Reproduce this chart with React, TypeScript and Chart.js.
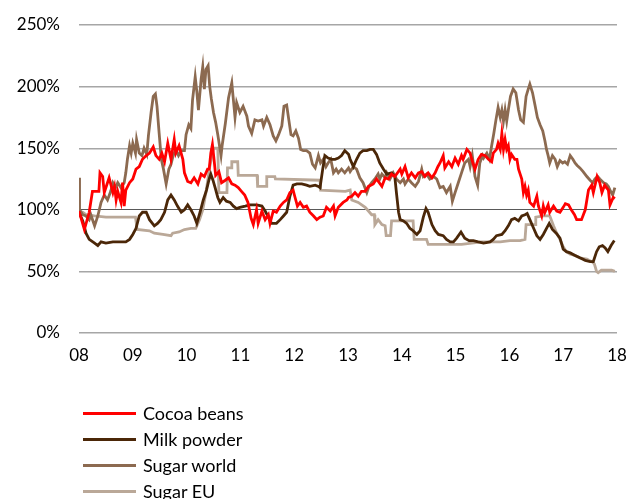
import React, { useEffect, useRef } from "react";
import { Chart, registerables } from "chart.js";
Chart.register(...registerables);

const seriesNames = ["Cocoa beans", "Milk powder", "Sugar world", "Sugar EU"];
const seriesColors = ["#FF0000", "#4B2708", "#8C6A50", "#BAA898"];
const xTickLabels = ["08", "09", "10", "11", "12", "13", "14", "15", "16", "17", "18"];
const yTickValues = [0, 50, 100, 150, 200, 250];

const cocoaBeans: [number, number][] = [
  [2008.00, 99], [2008.10, 84], [2008.19, 98], [2008.25, 115], [2008.37, 115], [2008.39, 130], [2008.44, 127], [2008.47, 114],
  [2008.56, 126], [2008.63, 114], [2008.66, 119], [2008.69, 108], [2008.72, 115], [2008.78, 106], [2008.81, 122], [2008.84, 103],
  [2008.87, 116], [2008.94, 122], [2009.00, 125], [2009.06, 133], [2009.12, 135], [2009.18, 141], [2009.25, 144], [2009.31, 146],
  [2009.38, 151], [2009.43, 144], [2009.49, 141], [2009.54, 146], [2009.59, 139], [2009.65, 154], [2009.71, 141], [2009.77, 157],
  [2009.80, 146], [2009.86, 152], [2009.93, 141], [2009.96, 130], [2010.02, 123], [2010.08, 122], [2010.14, 126], [2010.21, 121],
  [2010.27, 129], [2010.33, 127], [2010.39, 133], [2010.42, 133], [2010.45, 146], [2010.48, 153], [2010.51, 141], [2010.54, 128],
  [2010.60, 131], [2010.65, 122], [2010.72, 124], [2010.78, 126], [2010.84, 121], [2010.90, 120], [2010.96, 118], [2011.02, 115],
  [2011.08, 112], [2011.14, 106], [2011.20, 93], [2011.24, 88], [2011.30, 100], [2011.33, 89], [2011.40, 99], [2011.46, 92], [2011.52, 96],
  [2011.55, 89], [2011.61, 99], [2011.67, 98], [2011.74, 103], [2011.80, 106], [2011.86, 108], [2011.92, 114], [2011.98, 116],
  [2012.01, 111], [2012.06, 103], [2012.11, 106], [2012.17, 102], [2012.23, 103], [2012.29, 98], [2012.36, 95], [2012.42, 92],
  [2012.48, 94], [2012.54, 95], [2012.60, 102], [2012.67, 99], [2012.73, 103], [2012.76, 95], [2012.82, 102], [2012.91, 106],
  [2012.98, 108], [2013.01, 110], [2013.07, 111], [2013.13, 114], [2013.19, 111], [2013.25, 115], [2013.32, 115], [2013.38, 119],
  [2013.47, 121], [2013.53, 125], [2013.63, 119], [2013.69, 126], [2013.75, 125], [2013.81, 129], [2013.87, 127], [2013.97, 133],
  [2014.00, 129], [2014.06, 135], [2014.12, 126], [2014.18, 130], [2014.25, 126], [2014.31, 130], [2014.37, 131], [2014.43, 127],
  [2014.49, 130], [2014.56, 126], [2014.62, 130], [2014.67, 135], [2014.71, 138], [2014.77, 144], [2014.80, 134], [2014.87, 139],
  [2014.93, 135], [2014.99, 142], [2015.05, 137], [2015.11, 144], [2015.14, 141], [2015.21, 149], [2015.27, 146], [2015.30, 141],
  [2015.36, 133], [2015.42, 141], [2015.48, 145], [2015.55, 144], [2015.61, 141], [2015.67, 139], [2015.70, 146], [2015.76, 149],
  [2015.79, 154], [2015.83, 149], [2015.86, 162], [2015.89, 149], [2015.92, 157], [2015.95, 149], [2015.98, 152], [2016.01, 141],
  [2016.04, 145], [2016.10, 141], [2016.14, 141], [2016.17, 133], [2016.20, 129], [2016.23, 125], [2016.26, 114], [2016.29, 119],
  [2016.32, 112], [2016.35, 116], [2016.38, 106], [2016.45, 103], [2016.51, 111], [2016.54, 103], [2016.60, 95], [2016.63, 103],
  [2016.66, 98], [2016.72, 104], [2016.75, 98], [2016.82, 103], [2016.88, 99], [2016.94, 98], [2017.00, 102], [2017.04, 105],
  [2017.10, 104], [2017.15, 100], [2017.21, 96], [2017.25, 92], [2017.34, 92], [2017.41, 100], [2017.47, 116], [2017.53, 120],
  [2017.56, 114], [2017.63, 127], [2017.68, 122], [2017.72, 114], [2017.77, 120], [2017.84, 116], [2017.87, 104], [2017.93, 110],
  [2017.96, 109],
];

const milkPowder: [number, number][] = [
  [2008.00, 98], [2008.07, 91], [2008.13, 81], [2008.19, 76], [2008.29, 73], [2008.35, 71], [2008.41, 74], [2008.50, 73],
  [2008.63, 74], [2008.75, 74], [2008.87, 74], [2008.94, 76], [2009.00, 80], [2009.06, 85], [2009.12, 95], [2009.18, 98],
  [2009.25, 98], [2009.31, 92], [2009.40, 87], [2009.46, 89], [2009.52, 92], [2009.59, 98], [2009.65, 108], [2009.71, 112],
  [2009.77, 108], [2009.83, 103], [2009.90, 98], [2009.96, 100], [2010.02, 104], [2010.08, 100], [2010.14, 95], [2010.19, 89],
  [2010.25, 98], [2010.31, 108], [2010.37, 116], [2010.42, 125], [2010.45, 129], [2010.49, 124], [2010.53, 118], [2010.58, 110],
  [2010.62, 106], [2010.68, 110], [2010.74, 107], [2010.81, 106], [2010.87, 103], [2010.93, 101], [2010.99, 102], [2011.09, 103],
  [2011.18, 104], [2011.30, 104], [2011.40, 103], [2011.46, 99], [2011.52, 94], [2011.58, 89], [2011.67, 89], [2011.74, 92],
  [2011.80, 95], [2011.86, 98], [2011.92, 111], [2011.98, 120], [2012.05, 121], [2012.14, 121], [2012.23, 120], [2012.29, 119],
  [2012.39, 120], [2012.45, 119], [2012.48, 118], [2012.53, 133], [2012.57, 144], [2012.63, 142], [2012.70, 141], [2012.76, 141],
  [2012.82, 142], [2012.88, 144], [2012.94, 148], [2013.01, 145], [2013.04, 141], [2013.10, 135], [2013.16, 141], [2013.22, 146],
  [2013.28, 148], [2013.35, 148], [2013.41, 149], [2013.47, 149], [2013.53, 145], [2013.59, 138], [2013.66, 133], [2013.72, 129],
  [2013.81, 130], [2013.87, 127], [2013.90, 114], [2013.94, 98], [2013.97, 92], [2014.03, 91], [2014.09, 89], [2014.15, 85],
  [2014.21, 83], [2014.28, 80], [2014.34, 83], [2014.40, 94], [2014.45, 101], [2014.49, 98], [2014.56, 88], [2014.62, 83],
  [2014.68, 80], [2014.77, 79], [2014.83, 76], [2014.90, 74], [2014.96, 74], [2015.02, 77], [2015.10, 82], [2015.17, 77],
  [2015.25, 75], [2015.33, 75], [2015.42, 74], [2015.52, 73], [2015.64, 74], [2015.70, 76], [2015.76, 79], [2015.86, 80],
  [2015.92, 83], [2015.98, 87], [2016.04, 92], [2016.10, 93], [2016.17, 91], [2016.23, 95], [2016.29, 96], [2016.33, 97],
  [2016.38, 92], [2016.45, 85], [2016.51, 79], [2016.57, 76], [2016.63, 80], [2016.69, 85], [2016.74, 89], [2016.80, 84],
  [2016.87, 81], [2016.94, 77], [2017.00, 68], [2017.06, 66], [2017.13, 65], [2017.22, 63], [2017.31, 61], [2017.41, 59],
  [2017.50, 58], [2017.56, 58], [2017.62, 66], [2017.67, 70], [2017.73, 71], [2017.78, 69], [2017.83, 66], [2017.89, 71],
  [2017.95, 75],
];

const sugarWorld: [number, number][] = [
  [2008.00, 126], [2008.01, 100], [2008.07, 96], [2008.13, 95], [2008.19, 92], [2008.22, 96], [2008.29, 87], [2008.35, 95],
  [2008.41, 106], [2008.47, 112], [2008.53, 108], [2008.59, 115], [2008.63, 122], [2008.68, 118], [2008.72, 122], [2008.78, 118],
  [2008.84, 122], [2008.87, 130], [2008.90, 141], [2008.94, 152], [2008.97, 146], [2009.00, 154], [2009.05, 146], [2009.07, 157],
  [2009.12, 146], [2009.17, 144], [2009.21, 150], [2009.26, 145], [2009.29, 160], [2009.34, 179], [2009.38, 192], [2009.42, 194],
  [2009.45, 184], [2009.49, 162], [2009.53, 141], [2009.57, 133], [2009.62, 121], [2009.67, 133], [2009.71, 137], [2009.75, 144],
  [2009.80, 149], [2009.85, 144], [2009.90, 148], [2009.96, 148], [2009.99, 161], [2010.04, 169], [2010.08, 166], [2010.11, 189],
  [2010.16, 208], [2010.19, 196], [2010.22, 181], [2010.27, 206], [2010.30, 216], [2010.33, 198], [2010.36, 214], [2010.40, 217],
  [2010.43, 200], [2010.46, 190], [2010.50, 179], [2010.54, 171], [2010.58, 161], [2010.64, 144], [2010.66, 152], [2010.72, 170],
  [2010.78, 191], [2010.84, 203], [2010.87, 189], [2010.90, 175], [2010.93, 187], [2010.99, 179], [2011.05, 184],
  [2011.12, 176], [2011.15, 168], [2011.21, 162], [2011.27, 173], [2011.33, 172], [2011.40, 173], [2011.43, 168], [2011.49, 175],
  [2011.55, 169], [2011.61, 160], [2011.66, 156], [2011.71, 161], [2011.77, 168], [2011.81, 184], [2011.86, 185], [2011.90, 173],
  [2011.94, 161], [2011.98, 160], [2012.03, 164], [2012.08, 158], [2012.12, 149], [2012.17, 148], [2012.23, 148], [2012.29, 146],
  [2012.34, 137], [2012.39, 134], [2012.45, 144], [2012.49, 138], [2012.54, 141], [2012.59, 135], [2012.63, 138], [2012.68, 141],
  [2012.73, 130], [2012.78, 133], [2012.82, 130], [2012.88, 133], [2012.94, 130], [2013.01, 134], [2013.04, 131], [2013.10, 135],
  [2013.16, 133], [2013.22, 126], [2013.28, 122], [2013.35, 114], [2013.39, 119], [2013.44, 122], [2013.50, 125], [2013.56, 129],
  [2013.59, 125], [2013.63, 129], [2013.69, 126], [2013.72, 130], [2013.78, 125], [2013.84, 130], [2013.90, 125], [2013.97, 122],
  [2014.03, 125], [2014.06, 121], [2014.12, 125], [2014.18, 122], [2014.25, 119], [2014.31, 123], [2014.37, 133], [2014.40, 127],
  [2014.46, 129], [2014.52, 125], [2014.59, 127], [2014.65, 125], [2014.71, 118], [2014.77, 119], [2014.83, 114], [2014.90, 119],
  [2014.94, 107], [2014.99, 114], [2015.05, 122], [2015.11, 130], [2015.17, 138], [2015.24, 141], [2015.27, 135], [2015.31, 144],
  [2015.36, 127], [2015.41, 120], [2015.45, 138], [2015.50, 144], [2015.52, 142], [2015.58, 146], [2015.63, 141], [2015.67, 152],
  [2015.71, 162], [2015.75, 173], [2015.79, 183], [2015.83, 175], [2015.86, 181], [2015.89, 172], [2015.92, 181], [2015.95, 172],
  [2015.98, 181], [2016.02, 192], [2016.07, 198], [2016.12, 195], [2016.17, 181], [2016.21, 173], [2016.26, 171], [2016.31, 192],
  [2016.35, 198], [2016.38, 202], [2016.43, 195], [2016.48, 184], [2016.52, 175], [2016.57, 169], [2016.62, 164], [2016.66, 156],
  [2016.69, 149], [2016.72, 144], [2016.75, 138], [2016.80, 144], [2016.85, 141], [2016.89, 135], [2016.94, 140], [2016.99, 138],
  [2017.03, 139], [2017.08, 137], [2017.13, 144], [2017.18, 141], [2017.22, 138], [2017.26, 136], [2017.31, 134], [2017.37, 131],
  [2017.44, 127], [2017.50, 124], [2017.55, 122], [2017.59, 125], [2017.64, 127], [2017.68, 125], [2017.75, 122], [2017.80, 121],
  [2017.84, 119], [2017.88, 115], [2017.92, 112], [2017.96, 118],
];

const sugarEU: [number, number][] = [
  [2008.00, 99], [2008.07, 98], [2008.13, 96], [2008.29, 95], [2008.50, 94], [2009.05, 94], [2009.08, 84], [2009.31, 83],
  [2009.40, 81], [2009.56, 80], [2009.71, 79], [2009.74, 81], [2009.86, 82], [2009.96, 84], [2010.08, 85], [2010.17, 85],
  [2010.24, 92], [2010.30, 100], [2010.36, 114], [2010.43, 135], [2010.50, 150], [2010.58, 150], [2010.60, 114], [2010.75, 114],
  [2010.76, 134], [2010.83, 134], [2010.84, 139], [2010.95, 139], [2010.96, 128], [2011.31, 128], [2011.32, 119], [2011.48, 119],
  [2011.49, 127], [2011.64, 127], [2011.65, 125], [2012.48, 124], [2012.49, 116], [2012.95, 115], [2013.04, 116], [2013.07, 108],
  [2013.19, 106], [2013.32, 102], [2013.38, 99], [2013.44, 96], [2013.49, 96], [2013.50, 88], [2013.56, 92], [2013.63, 88],
  [2013.69, 87], [2013.71, 79], [2013.79, 79], [2013.81, 91], [2014.21, 91], [2014.23, 76], [2014.46, 76], [2014.49, 72],
  [2015.11, 72], [2015.30, 73], [2015.48, 74], [2015.83, 74], [2016.01, 75], [2016.20, 75], [2016.29, 76], [2016.31, 88],
  [2016.48, 88], [2016.49, 94], [2016.63, 95], [2016.75, 95], [2016.82, 87], [2016.88, 81], [2016.94, 76], [2017.00, 70],
  [2017.06, 66], [2017.13, 64], [2017.22, 63], [2017.31, 61], [2017.44, 60], [2017.53, 58], [2017.58, 56], [2017.62, 50],
  [2017.65, 49], [2017.71, 51], [2017.81, 51], [2017.90, 51], [2017.96, 50],
];

const allSeries = [cocoaBeans, milkPowder, sugarWorld, sugarEU];
const FONT = "Lato, 'Open Sans', sans-serif";

export default function App() {
  const canvasRef = useRef<HTMLCanvasElement | null>(null);

  useEffect(() => {
    const canvas = canvasRef.current;
    if (!canvas) return;
    const chart = new Chart(canvas, {
      type: "line",
      data: {
        datasets: allSeries.map((s, i) => ({
          label: seriesNames[i],
          data: s.map(([x, y]) => ({ x, y })),
          borderColor: seriesColors[i],
          backgroundColor: seriesColors[i],
          borderWidth: 2.8,
          pointRadius: 0,
          tension: 0,
          fill: false,
        })),
      },
      options: {
        responsive: false,
        animation: false,
        events: [],
        layout: { padding: { left: 0, top: 25, right: 9, bottom: 0 } },
        plugins: { legend: { display: false }, tooltip: { enabled: false } },
        scales: {
          x: {
            type: "linear",
            min: 2008,
            max: 2018,
            afterFit: (s: any) => {
              s.height = 166;
              s.paddingLeft = 0;
              s.paddingRight = 0;
            },
            afterBuildTicks: (s: any) => {
              s.ticks = xTickLabels.map((_, i) => ({ value: 2008 + i }));
            },
            ticks: {
              autoSkip: false,
              maxRotation: 0,
              padding: 12,
              color: "#000",
              font: { family: FONT, size: 17 },
              callback: (v: any) => xTickLabels[Math.round(Number(v)) - 2008],
            },
            grid: { display: false, drawTicks: false },
            border: { display: false },
          },
          y: {
            min: 0,
            max: 250,
            afterFit: (s: any) => {
              s.width = 79;
              s.paddingTop = 0;
              s.paddingBottom = 0;
            },
            afterBuildTicks: (s: any) => {
              s.ticks = yTickValues.map((v) => ({ value: v }));
            },
            ticks: {
              padding: 19,
              color: "#000",
              font: { family: FONT, size: 17 },
              callback: (v: any) => `${v}%`,
            },
            grid: {
              drawTicks: false,
              color: (ctx: any) => (ctx.tick && ctx.tick.value === 100 ? "#595959" : "#A6A6A6"),
              lineWidth: (ctx: any) => (ctx.tick && ctx.tick.value === 100 ? 1 : 1.4),
            },
            border: { display: false },
          },
        },
      },
    });
    return () => chart.destroy();
  }, []);

  const rowCenters = [413, 439, 465, 491];

  return (
    <div style={{ position: "absolute", left: 0, top: 0, width: 626, height: 499, overflow: "hidden", background: "#fff" }}>
      <canvas ref={canvasRef} width={626} height={499} style={{ position: "absolute", left: 0, top: 0 }} />
      {seriesNames.map((name, i) => (
        <div
          key={name}
          style={{
            position: "absolute",
            left: 83,
            top: rowCenters[i] - 13,
            height: 26,
            display: "flex",
            alignItems: "center",
            fontFamily: FONT,
            fontSize: 18,
            color: "#000",
            whiteSpace: "nowrap",
          }}
        >
          <span style={{ display: "inline-block", width: 53, height: 3, background: seriesColors[i], marginRight: 7 }} />
          <span>{name}</span>
        </div>
      ))}
    </div>
  );
}
